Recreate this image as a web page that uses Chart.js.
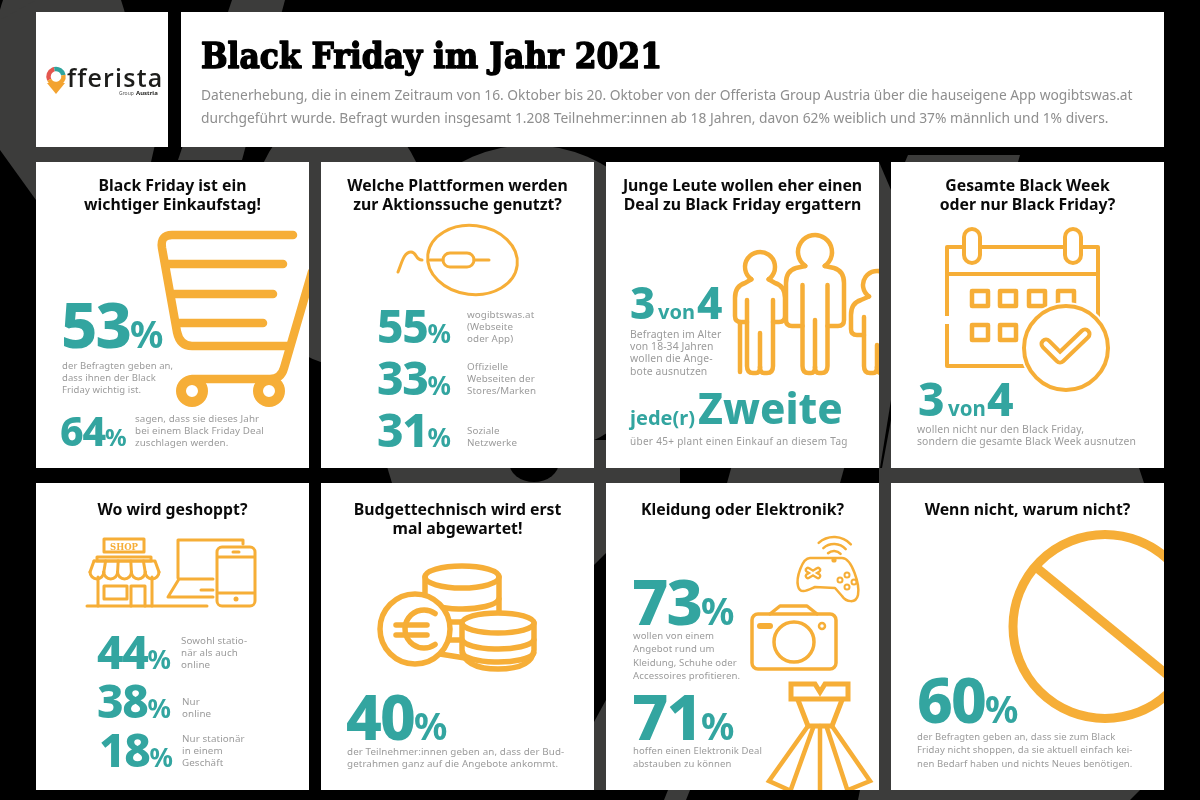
<!DOCTYPE html>
<html lang="de">
<head>
<meta charset="utf-8">
<title>Black Friday im Jahr 2021</title>
<script src="https://cdn.jsdelivr.net/npm/chart.js@4/dist/chart.umd.min.js"></script>
<style>
  html, body { margin: 0; padding: 0; background: #000; }
  canvas { display: block; }
</style>
</head>
<body>
<canvas id="chart" width="1200" height="800"></canvas>
<script>
'use strict';

/* ── Data ──────────────────────────────────────────────────── */
const headline = 'Black Friday im Jahr 2021';
const introLines = [
  'Datenerhebung, die in einem Zeitraum von 16. Oktober bis 20. Oktober von der Offerista Group Austria über die hauseigene App wogibtswas.at',
  'durchgeführt wurde. Befragt wurden insgesamt 1.208 Teilnehmer:innen ab 18 Jahren, davon 62% weiblich und 37% männlich und 1% divers.',
];
const panelTitles = [
  ['Black Friday ist ein', 'wichtiger Einkaufstag!'],
  ['Welche Plattformen werden', 'zur Aktionssuche genutzt?'],
  ['Junge Leute wollen eher einen', 'Deal zu Black Friday ergattern'],
  ['Gesamte Black Week', 'oder nur Black Friday?'],
  ['Wo wird geshoppt?'],
  ['Budgettechnisch wird erst', 'mal abgewartet!'],
  ['Kleidung oder Elektronik?'],
  ['Wenn nicht, warum nicht?'],
];
const percentValues = [53, 64, 55, 33, 31, 44, 38, 18, 40, 73, 71, 60];
const percentCaptions = [
  ['der Befragten geben an,', 'dass ihnen der Black', 'Friday wichtig ist.'],
  ['sagen, dass sie dieses Jahr', 'bei einem Black Friday Deal', 'zuschlagen werden.'],
  ['wogibtswas.at', '(Webseite', 'oder App)'],
  ['Offizielle', 'Webseiten der', 'Stores/Marken'],
  ['Soziale', 'Netzwerke'],
  ['Sowohl statio-', 'när als auch', 'online'],
  ['Nur', 'online'],
  ['Nur stationär', 'in einem', 'Geschäft'],
  ['der Teilnehmer:innen geben an, dass der Bud-', 'getrahmen ganz auf die Angebote ankommt.'],
  ['wollen von einem', 'Angebot rund um', 'Kleidung, Schuhe oder', 'Accessoires profitieren.'],
  ['hoffen einen Elektronik Deal', 'abstauben zu können'],
  ['der Befragten geben an, dass sie zum Black', 'Friday nicht shoppen, da sie aktuell einfach kei-', 'nen Bedarf haben und nichts Neues benötigen.'],
];
const ratioValues = [[3, 4], [3, 4]];
const ratioWord = 'von';
const ratioCaptions = [
  ['Befragten im Alter', 'von 18-34 Jahren', 'wollen die Ange-', 'bote ausnutzen'],
  ['wollen nicht nur den Black Friday,', 'sondern die gesamte Black Week ausnutzen'],
];
const shareLead = 'jede(r)';
const shareWord = 'Zweite';
const shareCaption = 'über 45+ plant einen Einkauf an diesem Tag';

/* ── Layout (page pixels, kept apart from the values) ──────── */
const TEAL = '#33a5a0', ORANGE = '#f6ae37', GREY = '#9b9b9b', SHAPE = '#3c3c3b';
const panelBoxes = [
  [36, 162], [321, 162], [606, 162], [891, 162],
  [36, 483], [321, 483], [606, 483], [891, 483],
];
const PANEL_W = 273, ROW_H = [306, 307];
// x,y = number baseline, big/small = font sizes, cx,cy,lh,fs = caption
const percentLayout = [
  { x: 61, y: 348, big: 63, small: 37, cx: 62, cy: 369, lh: 12, fs: 9.5 },
  { x: 60, y: 446, big: 41, small: 24, cx: 135, cy: 422, lh: 12, fs: 9.8 },
  { x: 377, y: 343, big: 46, small: 26, cx: 467, cy: 318, lh: 12, fs: 9.8 },
  { x: 377, y: 395, big: 46, small: 26, cx: 467, cy: 370, lh: 12, fs: 9.8 },
  { x: 377, y: 447, big: 46, small: 26, cx: 467, cy: 434, lh: 12, fs: 9.8 },
  { x: 97, y: 669, big: 46, small: 26, cx: 181, cy: 644, lh: 12, fs: 9.8 },
  { x: 97, y: 718, big: 46, small: 26, cx: 182, cy: 705, lh: 12, fs: 9.8 },
  { x: 99, y: 767, big: 46, small: 26, cx: 182, cy: 742, lh: 12, fs: 9.8 },
  { x: 346, y: 740, big: 62, small: 37, cx: 347, cy: 755, lh: 12, fs: 9.8 },
  { x: 632, y: 625, big: 63, small: 37, cx: 633, cy: 639, lh: 13.4, fs: 9.6 },
  { x: 632, y: 740, big: 63, small: 37, cx: 633, cy: 754, lh: 13, fs: 9.5 },
  { x: 917, y: 723, big: 62, small: 37, cx: 917, cy: 740, lh: 13.4, fs: 9.5 },
];
const ratioLayout = [
  { x: 630, y: 319, big: 44, word: 20, wordX: 658, secondX: 697, cx: 630, cy: 338, lh: 12.2, fs: 10.4 },
  { x: 918, y: 416, big: 46, word: 20.5, wordX: 948, secondX: 987, cx: 917, cy: 433, lh: 12.2, fs: 10.4 },
];

/* ── Draw helpers ──────────────────────────────────────────── */
function label(ctx, text, x, y, font, color, align = 'left', spacing = '0px') {
  ctx.font = font;
  ctx.fillStyle = color;
  ctx.textAlign = align;
  ctx.textBaseline = 'alphabetic';
  ctx.letterSpacing = spacing;
  ctx.fillText(text, x, y);
  ctx.letterSpacing = '0px';
}

function caption(ctx, lines, x, y, lh, fs) {
  lines.forEach((line, i) => label(ctx, line, x, y + i * lh, `${fs}px "Noto Sans"`, GREY, 'left', '0.1px'));
}

function poly(ctx, pts, close = true) {
  ctx.beginPath();
  pts.forEach(([x, y], i) => (i ? ctx.lineTo(x, y) : ctx.moveTo(x, y)));
  if (close) ctx.closePath();
}

function oval(ctx, x, y, rx, ry) {
  ctx.beginPath();
  ctx.ellipse(x, y, rx, ry, 0, 0, Math.PI * 2);
}

function pen(ctx, width) {
  ctx.strokeStyle = ORANGE;
  ctx.lineWidth = width;
  ctx.lineCap = 'round';
  ctx.lineJoin = 'round';
}

function withClip(ctx, x, y, w, h, fn) {
  ctx.save();
  ctx.beginPath();
  ctx.rect(x, y, w, h);
  ctx.clip();
  fn();
  ctx.restore();
}

/* ── Backdrop: the big grey glyphs behind the cards ────────── */
function drawBackdrop(ctx) {
  ctx.fillStyle = '#000';
  ctx.fillRect(0, 0, 1200, 800);
  ctx.fillStyle = SHAPE;
  oval(ctx, 62, 70, 70, 130); ctx.fill();
  poly(ctx, [[0, 20], [36, 0], [36, 200], [0, 150]]); ctx.fill();
  poly(ctx, [[36, 140], [156, 140], [151, 162], [36, 162]]); ctx.fill();
  poly(ctx, [[232, 0], [285, 0], [242, 160], [178, 160]]); ctx.fill();
  oval(ctx, 340, 235, 92, 130); ctx.fill();
  oval(ctx, 530, 300, 150, 155); ctx.fill();
  poly(ctx, [[905, 162], [908, 155], [1020, 155], [1018, 162]]); ctx.fill();
  poly(ctx, [[385, 460], [680, 460], [680, 483], [392, 483]]); ctx.fill();
  poly(ctx, [[594, 440], [606, 440], [606, 553], [594, 565]]); ctx.fill();
  poly(ctx, [[594, 722], [606, 700], [606, 790], [594, 790]]); ctx.fill();
  poly(ctx, [[732, 465], [845, 465], [840, 483], [727, 483]]); ctx.fill();
  poly(ctx, [[888, 465], [1138, 465], [1144, 483], [885, 483]]); ctx.fill();
  poly(ctx, [[879, 162], [891, 190], [891, 800], [879, 800]]); ctx.fill();
  poly(ctx, [[668, 790], [690, 790], [686, 800], [664, 800]]); ctx.fill();
  poly(ctx, [[860, 790], [1140, 790], [1130, 800], [858, 800]]); ctx.fill();
  ctx.fillStyle = '#000';
  oval(ctx, 534, 462, 25, 20); ctx.fill();
  poly(ctx, [[880, 468], [891, 400], [891, 420], [882, 468]]); ctx.fill();
}

function drawCards(ctx) {
  ctx.fillStyle = '#fff';
  ctx.fillRect(36, 12, 132, 135);
  ctx.fillRect(181, 12, 983, 135);
  panelBoxes.forEach(([x, y], i) => ctx.fillRect(x, y, PANEL_W, i < 4 ? ROW_H[0] : ROW_H[1]));
}

/* ── Icons ─────────────────────────────────────────────────── */
function drawLogo(ctx) {
  const cx = 56, cy = 76.5;
  ctx.fillStyle = '#f3a330';
  poly(ctx, [[47, 83], [65, 83], [56, 94]]); ctx.fill();
  ctx.fillStyle = '#fff';
  oval(ctx, cx, cy, 7, 7); ctx.fill();
  ctx.lineCap = 'butt';
  ctx.lineWidth = 4.5;
  [['#e4574f', 2.7, 4.5], ['#2fa49d', 4.5, 6.1], ['#f3a330', 6.1, 8.98]].forEach(([color, a, b]) => {
    ctx.strokeStyle = color;
    ctx.beginPath();
    ctx.arc(cx, cy, 7.5, a, b);
    ctx.stroke();
  });
  label(ctx, 'fferista', 67, 87, '600 25px "Open Sans"', '#1d1d1b', 'left', '1.2px');
  label(ctx, 'Group', 119, 94.5, '5px "Noto Sans"', '#555');
  label(ctx, 'Austria', 136, 94.5, 'bold 6px "Noto Sans"', '#1d1d1b');
}

function drawCart(ctx) {
  withClip(ctx, 36, 162, PANEL_W, ROW_H[0], () => {
    pen(ctx, 8.5);
    ctx.beginPath();
    ctx.moveTo(293, 235); ctx.lineTo(172, 235);
    ctx.quadraticCurveTo(160, 235, 162, 248);
    ctx.lineTo(177, 332);
    ctx.quadraticCurveTo(180, 346, 192, 346);
    ctx.lineTo(287, 346);
    ctx.stroke();
    ctx.beginPath();
    ctx.moveTo(312, 272); ctx.lineTo(284, 368);
    ctx.quadraticCurveTo(281, 379, 270, 379);
    ctx.lineTo(192, 379);
    ctx.stroke();
    [[264, 168, 283], [294, 172, 273], [323, 177, 263]].forEach(([y, a, b]) => {
      poly(ctx, [[a, y], [b, y]], false); ctx.stroke();
    });
    ctx.lineWidth = 10;
    [192, 269].forEach(x => {
      ctx.fillStyle = '#fff';
      oval(ctx, x, 391, 11, 11); ctx.fill(); ctx.stroke();
    });
  });
}

function drawMouse(ctx) {
  pen(ctx, 3);
  ctx.beginPath();
  ctx.ellipse(472.5, 260, 45, 34.5, 0.12, 0, Math.PI * 2);
  ctx.stroke();
  ctx.beginPath();
  ctx.moveTo(398, 272);
  ctx.bezierCurveTo(402, 262, 404, 252, 411, 252);
  ctx.bezierCurveTo(417, 252, 415, 260, 422, 260);
  ctx.stroke();
  poly(ctx, [[430, 260], [443, 260]], false); ctx.stroke();
  poly(ctx, [[474, 260], [489, 260]], false); ctx.stroke();
  ctx.beginPath();
  ctx.roundRect(443, 253, 31, 14, 7);
  ctx.stroke();
}

function drawPerson(ctx, cx, hy, r, hw, bw, sy, ay, by, crotch) {
  ctx.beginPath();
  ctx.arc(cx, hy, r, 125 * Math.PI / 180, 55 * Math.PI / 180);
  ctx.stroke();
  [1, -1].forEach(s => {
    ctx.beginPath();
    ctx.moveTo(cx + s * r * 0.57, hy + r * 0.82);
    ctx.lineTo(cx + s * (hw - 10), sy);
    ctx.quadraticCurveTo(cx + s * hw, sy + 3, cx + s * hw, sy + 15);
    ctx.lineTo(cx + s * hw, ay - 6);
    ctx.quadraticCurveTo(cx + s * hw, ay, cx + s * (hw - 6), ay);
    ctx.lineTo(cx + s * bw, ay);
    ctx.stroke();
    ctx.beginPath();
    ctx.moveTo(cx + s * bw, sy + 17);
    ctx.lineTo(cx + s * bw, by - 7);
    ctx.quadraticCurveTo(cx + s * bw, by, cx + s * (bw - 6), by);
    ctx.lineTo(cx + s * 4, by);
    ctx.quadraticCurveTo(cx, by, cx, by - 6);
    ctx.stroke();
  });
  poly(ctx, [[cx, by - 6], [cx, crotch]], false); ctx.stroke();
}

function drawPeople(ctx) {
  withClip(ctx, 606, 162, PANEL_W, ROW_H[0], () => {
    pen(ctx, 4.5);
    drawPerson(ctx, 760, 267, 15, 25, 13, 283, 322, 373, 333);
    drawPerson(ctx, 815, 252, 17, 29, 12.5, 268, 326, 373, 320);
    drawPerson(ctx, 877, 285, 14, 26, 13, 300, 335, 373, 345);
    poly(ctx, [[740, 322], [740, 372]], false); ctx.stroke();
  });
}

function drawCalendar(ctx) {
  pen(ctx, 4);
  ctx.lineCap = 'butt';
  ctx.strokeRect(947, 247, 151, 119);
  poly(ctx, [[947, 274], [1098, 274]], false); ctx.stroke();
  ctx.fillStyle = '#fff';
  ctx.fillRect(944, 316, 7, 8);
  [972, 1073].forEach(x => {
    ctx.beginPath();
    ctx.roundRect(x - 8, 229, 16, 34, 8);
    ctx.fill(); ctx.stroke();
  });
  ctx.lineWidth = 4.5;
  [[972, 291], [1000, 291], [1029, 291], [1058, 291], [972, 325], [1000, 325]].forEach(([x, y]) => {
    ctx.strokeRect(x, y, 16, 15);
  });
  ctx.lineWidth = 4;
  oval(ctx, 1066, 348, 46, 46);
  ctx.fill();
  oval(ctx, 1066, 348, 42, 42);
  ctx.stroke();
  const tick = [[1046, 344], [1060, 358], [1085, 334]];
  ctx.lineCap = 'round';
  ctx.lineWidth = 13;
  poly(ctx, tick, false); ctx.stroke();
  ctx.strokeStyle = '#fff';
  ctx.lineWidth = 5;
  poly(ctx, tick, false); ctx.stroke();
}

function drawShop(ctx) {
  pen(ctx, 3);
  ctx.strokeRect(104, 539, 40, 13);
  label(ctx, 'SHOP', 124, 549.5, 'bold 8.5px "DejaVu Serif"', ORANGE, 'center');
  ctx.strokeRect(97, 557, 54, 4);
  poly(ctx, [[98, 577], [98, 606]], false); ctx.stroke();
  poly(ctx, [[152, 577], [152, 606]], false); ctx.stroke();
  poly(ctx, [[87, 606], [207, 606]], false); ctx.stroke();
  poly(ctx, [[94, 561], [155, 561], [159, 572]], false); ctx.stroke();
  poly(ctx, [[94, 561], [90, 572]], false); ctx.stroke();
  for (let i = 0; i < 5; i++) {
    const a = 90 + i * 13.8;
    ctx.beginPath();
    ctx.arc(a + 6.9, 572, 6.9, 0, Math.PI);
    ctx.stroke();
    if (i < 4) { poly(ctx, [[a + 13.8, 572], [a + 13.8 - (i - 1.5) * 1.2, 561]], false); ctx.stroke(); }
  }
  ctx.strokeRect(104, 586, 23, 13);
  poly(ctx, [[131, 606], [131, 586], [145, 586], [145, 606]], false); ctx.stroke();
  // laptop and phone
  poly(ctx, [[178, 578], [178, 540], [243, 540], [243, 544]], false); ctx.stroke();
  poly(ctx, [[213, 579], [179, 579], [168, 597], [213, 597]], false); ctx.stroke();
  poly(ctx, [[201, 590], [213, 590]], false); ctx.stroke();
  ctx.beginPath();
  ctx.roundRect(217, 547, 38, 59, 5);
  ctx.stroke();
  poly(ctx, [[218, 557], [254, 557]], false); ctx.stroke();
  poly(ctx, [[218, 593], [254, 593]], false); ctx.stroke();
  poly(ctx, [[233, 552], [239, 552]], false); ctx.stroke();
  ctx.fillStyle = ORANGE;
  oval(ctx, 236, 599, 2.5, 2.5); ctx.fill();
}

function drawCoins(ctx) {
  pen(ctx, 5.5);
  ctx.fillStyle = '#fff';
  // back stack
  ctx.beginPath();
  ctx.moveTo(425, 577); ctx.lineTo(425, 615);
  ctx.moveTo(499, 577); ctx.lineTo(499, 640);
  ctx.stroke();
  ctx.beginPath(); ctx.ellipse(462, 598, 37, 11, 0, 0.1, Math.PI - 0.1); ctx.stroke();
  oval(ctx, 462, 577, 37, 11); ctx.stroke();
  poly(ctx, [[440, 622], [470, 622]], false); ctx.stroke();
  poly(ctx, [[440, 640], [470, 640]], false); ctx.stroke();
  poly(ctx, [[440, 654], [465, 658]], false); ctx.stroke();
  // euro coin
  oval(ctx, 415, 629, 35, 35); ctx.fill(); ctx.stroke();
  ctx.beginPath(); ctx.arc(424, 629, 19, -0.95, 0.95, true); ctx.stroke();
  poly(ctx, [[396, 625], [427, 625]], false); ctx.stroke();
  poly(ctx, [[396, 635], [427, 635]], false); ctx.stroke();
  // front stack
  ctx.beginPath();
  ctx.moveTo(462, 623); ctx.lineTo(462, 650);
  ctx.quadraticCurveTo(465, 669, 498, 669);
  ctx.quadraticCurveTo(532, 669, 534, 650);
  ctx.lineTo(534, 623);
  ctx.closePath();
  ctx.fill(); ctx.stroke();
  oval(ctx, 498, 623, 36, 10); ctx.fill(); ctx.stroke();
  ctx.beginPath(); ctx.ellipse(498, 639, 36, 10, 0, 0.1, Math.PI - 0.1); ctx.stroke();
  ctx.beginPath(); ctx.ellipse(498, 652, 36, 10, 0, 0.1, Math.PI - 0.1); ctx.stroke();
}

function drawGoods(ctx) {
  // game controller
  pen(ctx, 2.5);
  ctx.beginPath();
  ctx.moveTo(810, 558); ctx.lineTo(842, 558);
  ctx.bezierCurveTo(852, 558, 860, 585, 858, 595);
  ctx.bezierCurveTo(856, 604, 846, 602, 842, 596);
  ctx.lineTo(835, 588); ctx.lineTo(815, 587);
  ctx.bezierCurveTo(808, 590, 800, 595, 798, 586);
  ctx.bezierCurveTo(796, 578, 802, 558, 810, 558);
  ctx.stroke();
  [[813, 573]].forEach(([x, y]) => {
    ctx.lineWidth = 6.5;
    poly(ctx, [[x - 5, y - 3], [x + 5, y + 3]], false); ctx.stroke();
    poly(ctx, [[x - 5, y + 3], [x + 5, y - 3]], false); ctx.stroke();
    ctx.strokeStyle = '#fff'; ctx.lineWidth = 2;
    poly(ctx, [[x - 5, y - 3], [x + 5, y + 3]], false); ctx.stroke();
    poly(ctx, [[x - 5, y + 3], [x + 5, y - 3]], false); ctx.stroke();
  });
  pen(ctx, 2);
  [[847, 575], [840, 580], [854, 582], [847, 587]].forEach(([x, y]) => { oval(ctx, x, y, 2.5, 2.5); ctx.stroke(); });
  ctx.fillStyle = ORANGE;
  oval(ctx, 834, 560, 2.6, 2.6); ctx.fill();
  pen(ctx, 2.5);
  [9, 16, 23].forEach(r => {
    ctx.beginPath(); ctx.arc(834, 560, r, -2.3, -0.75); ctx.stroke();
  });
  // camera
  pen(ctx, 3.5);
  ctx.beginPath();
  ctx.roundRect(752, 614, 84, 55, 6);
  ctx.stroke();
  poly(ctx, [[770, 614], [780, 606], [807, 606], [817, 614]], false); ctx.stroke();
  oval(ctx, 794, 642, 20, 20); ctx.stroke();
  pen(ctx, 6);
  poly(ctx, [[760, 626], [770, 626]], false); ctx.stroke();
  pen(ctx, 2.5);
  oval(ctx, 822, 626, 3, 3); ctx.stroke();
  // dress
  withClip(ctx, 606, 483, PANEL_W, ROW_H[1], () => {
    pen(ctx, 5);
    ctx.lineJoin = 'miter';
    poly(ctx, [[791, 684], [815, 684], [820, 692], [825, 684], [848, 684], [848, 699], [791, 699]]); ctx.stroke();
    poly(ctx, [[798, 700], [808, 726], [832, 726], [842, 700]], false); ctx.stroke();
    pen(ctx, 4.5);
    ctx.lineJoin = 'miter';
    poly(ctx, [[808, 726], [769, 781], [789, 790]], false); ctx.stroke();
    poly(ctx, [[832, 726], [870, 781], [848, 790]], false); ctx.stroke();
    poly(ctx, [[820, 726], [820, 792]], false); ctx.stroke();
    poly(ctx, [[813, 728], [790, 792]], false); ctx.stroke();
    poly(ctx, [[827, 728], [848, 792]], false); ctx.stroke();
  });
}

function drawNoSign(ctx) {
  withClip(ctx, 891, 483, PANEL_W, ROW_H[1], () => {
    pen(ctx, 9);
    ctx.lineCap = 'butt';
    oval(ctx, 1105, 626.5, 92, 92); ctx.stroke();
    poly(ctx, [[1037, 568], [1170, 677]], false); ctx.stroke();
  });
}

/* ── Plugin: paints the page, then the numbers at their points ─ */
const pagePainter = {
  id: 'pagePainter',
  beforeDatasetsDraw(chart) {
    const { ctx } = chart;
    ctx.save();
    drawBackdrop(ctx);
    drawCards(ctx);
    drawLogo(ctx);
    drawCart(ctx);
    drawMouse(ctx);
    drawPeople(ctx);
    drawCalendar(ctx);
    drawShop(ctx);
    drawCoins(ctx);
    drawGoods(ctx);
    drawNoSign(ctx);
    ctx.restore();
  },
  afterDatasetsDraw(chart) {
    const { ctx } = chart;
    ctx.save();
    ctx.font = 'bold 36px "DejaVu Serif"';
    ctx.strokeStyle = '#000';
    ctx.lineWidth = 1.6;
    ctx.lineJoin = 'round';
    ctx.textAlign = 'left';
    ctx.fillStyle = '#000';
    ctx.fillText(headline, 201, 68, 461);
    ctx.strokeText(headline, 201, 68, 461);
    introLines.forEach((line, i) => label(ctx, line, 201, 100 + i * 23, '13.8px "Noto Sans"', '#8e8e8e'));

    panelTitles.forEach((lines, i) => {
      const [x] = panelBoxes[i];
      const first = i < 4 ? 191 : 515;
      lines.forEach((line, j) => label(ctx, line, x + PANEL_W / 2, first + j * 18.5, 'bold 15.8px "Noto Sans"', '#0a0a0a', 'center'));
    });

    chart.getDatasetMeta(0).data.forEach((pt, i) => {
      const { big, small, cx, cy, lh, fs } = percentLayout[i];
      const text = String(percentValues[i]);
      const spacing = (-big * 0.03) + 'px';
      label(ctx, text, pt.x, pt.y, `800 ${big}px "Noto Sans"`, TEAL, 'left', spacing);
      ctx.letterSpacing = spacing;
      const w = ctx.measureText(text).width;
      ctx.letterSpacing = '0px';
      label(ctx, '%', pt.x + w, pt.y, `bold ${small}px "Noto Sans"`, TEAL);
      caption(ctx, percentCaptions[i], cx, cy, lh, fs);
    });

    chart.getDatasetMeta(1).data.forEach((pt, i) => {
      const { big, word, wordX, secondX, cx, cy, lh, fs } = ratioLayout[i];
      label(ctx, String(ratioValues[i][0]), pt.x, pt.y, `800 ${big}px "Noto Sans"`, TEAL);
      label(ctx, ratioWord, wordX, pt.y, `bold ${word}px "Noto Sans"`, TEAL);
      label(ctx, String(ratioValues[i][1]), secondX, pt.y, `800 ${big}px "Noto Sans"`, TEAL);
      caption(ctx, ratioCaptions[i], cx, cy, lh, fs);
    });

    label(ctx, shareLead, 630, 425, 'bold 20px "Noto Sans"', TEAL);
    label(ctx, shareWord, 698, 424, '800 42px "Noto Sans"', TEAL);
    label(ctx, shareCaption, 630, 445, '10px "Noto Sans"', GREY, 'left', '0.3px');
    ctx.restore();
  },
};

/* ── Chart: page-sized scatter with hidden axes ────────────── */
new Chart(document.getElementById('chart'), {
  type: 'scatter',
  data: {
    datasets: [
      { label: 'Prozent', pointRadius: 0, data: percentValues.map((v, i) => ({ x: percentLayout[i].x, y: percentLayout[i].y, value: v })) },
      { label: 'Anteil', pointRadius: 0, data: ratioValues.map((v, i) => ({ x: ratioLayout[i].x, y: ratioLayout[i].y, value: v })) },
    ],
  },
  options: {
    responsive: false,
    animation: false,
    devicePixelRatio: 1,
    layout: { padding: 0 },
    plugins: { legend: { display: false }, tooltip: { enabled: false } },
    scales: {
      x: { type: 'linear', display: false, min: 0, max: 1200 },
      y: { type: 'linear', display: false, min: 0, max: 800, reverse: true },
    },
  },
  plugins: [pagePainter],
});
</script>
</body>
</html>
